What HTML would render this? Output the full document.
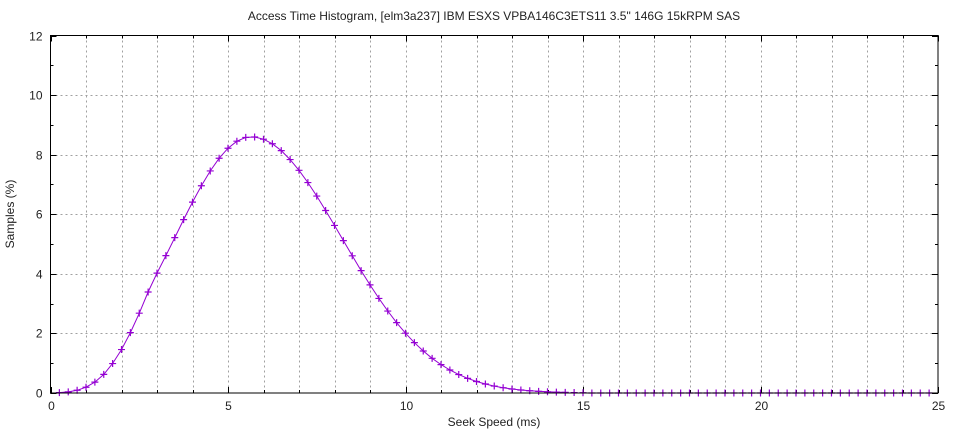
<!DOCTYPE html>
<html><head><meta charset="utf-8"><style>
html,body{margin:0;padding:0;background:#fff;}
svg{display:block;font-family:"Liberation Sans",sans-serif;}
</style></head><body>
<svg id="s" width="960" height="432" xmlns="http://www.w3.org/2000/svg">
<rect width="960" height="432" fill="#fff"/>
<g id="grid" stroke="#a0a0a0" stroke-width="1" stroke-dasharray="2,3"></g>
<g id="ticks" stroke="#000" stroke-width="1"></g>
<g id="labels" font-size="12" fill="#222"></g>
<text x="494" y="20" font-size="12" text-anchor="middle" fill="#222">Access Time Histogram, [elm3a237] IBM ESXS VPBA146C3ETS11 3.5" 146G 15kRPM SAS</text>
<text x="494" y="426" font-size="12" text-anchor="middle" fill="#222">Seek Speed (ms)</text>
<text transform="translate(14,214) rotate(-90)" font-size="12" text-anchor="middle" fill="#222">Samples (%)</text>
<path id="line" fill="none" stroke="#9400d3" stroke-width="1"/>
<g id="pts" stroke="#9400d3" stroke-width="1.2"></g>
<rect x="50.5" y="35.5" width="887.5" height="357.5" fill="none" stroke="#000" stroke-width="1"/>
</svg>
<script>
var L=50.5,R=938,T=35.5,B=393;
function X(v){return L+(R-L)*v/25;}
function Y(v){return B-(B-T)*v/12;}
var ns="http://www.w3.org/2000/svg";
function el(p,t,a){var e=document.createElementNS(ns,t);for(var k in a)e.setAttribute(k,a[k]);document.getElementById(p).appendChild(e);return e;}
for(var i=1;i<25;i++){var x=Math.round(X(i))+0.5;el("grid","line",{x1:x,y1:T,x2:x,y2:B});}
for(var j=2;j<12;j+=2){var y=Math.round(Y(j))+0.5;el("grid","line",{x1:L,y1:y,x2:R,y2:y});}
for(var i=0;i<=25;i++){var x=Math.round(X(i))+0.5,len=i%5==0?6:3;el("ticks","line",{x1:x,y1:B,x2:x,y2:B-len});el("ticks","line",{x1:x,y1:T,x2:x,y2:T+len});
 if(i%5==0){var t=el("labels","text",{x:x,y:B+17,"text-anchor":"middle"});t.textContent=i;}}
for(var j=0;j<=12;j++){var y=Math.round(Y(j))+0.5,len=j%2==0?6:3;el("ticks","line",{x1:L,y1:y,x2:L+len,y2:y});el("ticks","line",{x1:R,y1:y,x2:R-len,y2:y});
 if(j%2==0){var t=el("labels","text",{x:L-8,y:y+4,"text-anchor":"end"});t.textContent=j;}}
function f(x){var m=5.65,d=x-m,s;
 if(d<0){d=-d;s=d>2.8?2.15-0.25*(d-2.8):2.15;}else s=2.55;
 var v=8.6*Math.exp(-d*d/(2*s*s));return v<0.01?0:v;}
var dstr="";
for(var x=0.25;x<=24.76;x+=0.25){var v=f(x);
 if(x<=14.6){dstr+=(dstr?"L":"M")+X(x).toFixed(1)+","+Y(v).toFixed(1);}
 var px=X(x),py=Y(v);
 el("pts","path",{d:"M"+(px-3.5)+","+py+"h7M"+px+","+(py-3.5)+"v7"});}
document.getElementById("line").setAttribute("d",dstr);
</script>
</body></html>
